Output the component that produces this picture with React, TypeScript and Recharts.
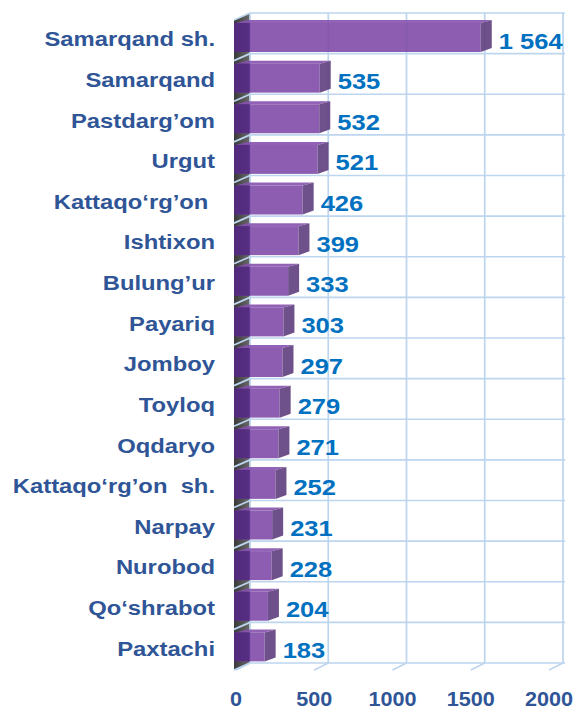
import { BarChart, Bar, XAxis, YAxis, ReferenceArea, LabelList } from 'recharts';

const districts = [
  'Samarqand sh.',
  'Samarqand',
  'Pastdarg’om',
  'Urgut',
  'Kattaqo‘rg’on ',
  'Ishtixon',
  'Bulung’ur',
  'Payariq',
  'Jomboy',
  'Toyloq',
  'Oqdaryo',
  'Kattaqo‘rg’on  sh.',
  'Narpay',
  'Nurobod',
  'Qo‘shrabot',
  'Paxtachi',
];
const counts = [1564, 535, 532, 521, 426, 399, 333, 303, 297, 279, 271, 252, 231, 228, 204, 183];
const xTicks = [0, 500, 1000, 1500, 2000];

const data = districts.map((name, i) => ({ name, value: counts[i] }));

const FONT = "'Liberation Sans', Arial, sans-serif";
const GRID = '#BDD5EE';
const LABEL = '#2F5597';
const VALUE = '#0070C0';
// depth of the fake 3D box (back wall sits up and to the right)
const DX = 14;
const DY = 7;

const fmt = (v: number) => (v >= 1000 ? `${Math.floor(v / 1000)} ${String(v % 1000).padStart(3, '0')}` : String(v));

function BackWall(props: any) {
  const { x, y, width, height } = props;
  const rows = districts.length;
  const bx = x + DX;
  const by = y - DY;
  const max = xTicks[xTicks.length - 1];
  const xs = xTicks.map((t) => (width * t) / max);
  const ys = Array.from({ length: rows + 1 }, (_, k) => (height * k) / rows);
  return (
    <g>
      <defs>
        <linearGradient id="wallGrad" x1="0" y1="0" x2="1" y2="0">
          <stop offset="0%" stopColor="#3a3a3a" />
          <stop offset="100%" stopColor="#6a6a6a" />
        </linearGradient>
      </defs>
      <polygon
        points={`${x - 2},${y} ${bx},${by} ${bx},${by + height} ${x - 2},${y + height}`}
        fill="url(#wallGrad)"
      />
      {ys.map((d, k) => (
        <line key={`h${k}`} x1={bx} x2={bx + width + 2} y1={by + d} y2={by + d} stroke={GRID} strokeWidth={1.7} />
      ))}
      {ys.map((d, k) => (
        <line key={`s${k}`} x1={x - 2} y1={y + d} x2={bx} y2={by + d} stroke={GRID} strokeWidth={1.7} />
      ))}
      {xs.map((d, k) => (
        <line key={`v${k}`} x1={bx + d} x2={bx + d} y1={by} y2={by + height} stroke={GRID} strokeWidth={1.7} />
      ))}
      {xs.map((d, k) => (
        <line key={`f${k}`} x1={bx + d} y1={by + height} x2={x + d} y2={y + height} stroke={GRID} strokeWidth={1.7} />
      ))}
    </g>
  );
}

function Bar3D(props: any) {
  const { x, y, width, height } = props;
  const top = y - 3;
  const bottom = top + height;
  const ex = x + width;
  return (
    <g opacity={0.9}>
      <polygon points={`${x},${top} ${x + 11},${top - 3} ${ex + 11},${top - 3} ${ex},${top}`} fill="#8752AF" />
      <rect x={x} y={top} width={width} height={height} fill="#804CA9" />
      <rect x={x - 2} y={top} width={Math.min(16, width)} height={height} fill="#552985" />
      <polygon
        points={`${ex},${top} ${ex + 11},${top - 3} ${ex + 11},${bottom - 4} ${ex},${bottom}`}
        fill="#5F3F7E"
      />
    </g>
  );
}

function ValueLabel(props: any) {
  const { x, y, width, height, value } = props;
  return (
    <text
      transform={`translate(${x + width + 18},${y + height / 2 + 8}) scale(1.16,1)`}
      textAnchor="start"
      fill={VALUE}
      fontFamily={FONT}
      fontSize={22}
      fontWeight="bold"
    >
      {fmt(value)}
    </text>
  );
}

function CategoryTick(props: any) {
  const { x, y, payload } = props;
  return (
    <text
      transform={`translate(${x},${y + 6}) scale(1.19,1)`}
      textAnchor="end"
      fill={LABEL}
      fontFamily={FONT}
      fontSize={20}
      fontWeight="bold"
      style={{ whiteSpace: 'pre' }}
    >
      {payload.value}
    </text>
  );
}

function ValueTick(props: any) {
  const { x, y, payload } = props;
  return (
    <text
      transform={`translate(${x},${y + 36}) scale(1.08,1)`}
      textAnchor="middle"
      fill={LABEL}
      fontFamily={FONT}
      fontSize={20}
      fontWeight="bold"
    >
      {payload.value}
    </text>
  );
}

export default function App() {
  return (
    <div style={{ position: 'absolute', left: 0, top: 0, width: 575, height: 709, background: '#fff' }}>
      <BarChart
        layout="vertical"
        width={575}
        height={709}
        data={data}
        margin={{ top: 20, right: 26, bottom: 0, left: 0 }}
        barSize={29}
      >
        <XAxis
          type="number"
          domain={[0, 2000]}
          ticks={xTicks}
          axisLine={false}
          tickLine={false}
          tickSize={0}
          tickMargin={0}
          height={39}
          tick={<ValueTick />}
        />
        <YAxis
          type="category"
          dataKey="name"
          width={236}
          axisLine={false}
          tickLine={false}
          tickSize={0}
          tickMargin={21}
          interval={0}
          tick={<CategoryTick />}
        />
        <ReferenceArea x1={0} x2={2000} ifOverflow="visible" shape={<BackWall />} />
        <Bar dataKey="value" shape={<Bar3D />} isAnimationActive={false}>
          <LabelList dataKey="value" content={<ValueLabel />} />
        </Bar>
      </BarChart>
    </div>
  );
}
